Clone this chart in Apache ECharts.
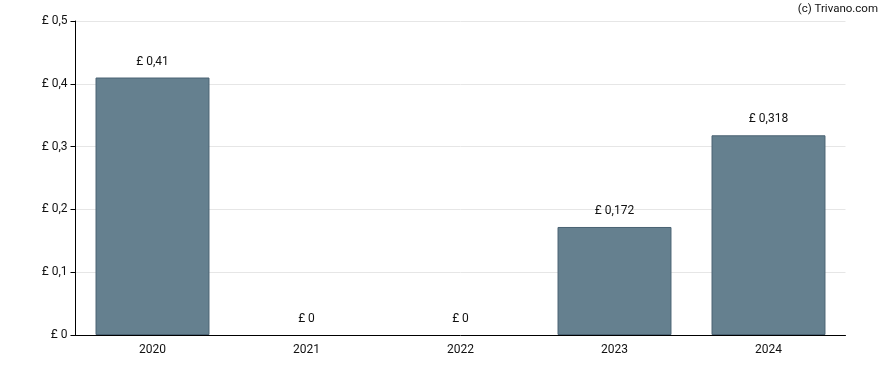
<!DOCTYPE html>
<html><head><meta charset="utf-8">
<script src="https://cdn.jsdelivr.net/npm/echarts@6/dist/echarts.min.js"></script>
<style>html,body{margin:0;padding:0;background:#fff}#c{width:888px;height:370px}</style>
</head><body><div id="c"></div>
<script>
const categories = ['2020','2021','2022','2023','2024'];
const values = [0.41, 0, 0, 0.172, 0.318];
const yTicks = [0, 0.1, 0.2, 0.3, 0.4, 0.5];
const fmt = v => '£ ' + String(v).replace('.', ',');
const chart = echarts.init(document.getElementById('c'));
chart.setOption({
  animation: false,
  textStyle: {fontFamily: 'Roboto'},
  graphic: [{type:'text', right: 10, top: 3, style:{text:'(c) Trivano.com', font:'11.5px Roboto', fill:'#111'}}],
  grid: {left: 75.5, right: 42.5, top: 21, bottom: 35},
  xAxis: {
    type: 'category', data: categories,
    axisLine: {lineStyle: {color: '#000', width: 1}},
    axisTick: {alignWithLabel: true, length: 5, lineStyle: {color: '#000'}},
    axisLabel: {color: '#111', fontSize: 12, margin: 9}
  },
  yAxis: {
    type: 'value', min: yTicks[0], max: yTicks[yTicks.length-1], interval: 0.1,
    axisLine: {show: true, lineStyle: {color: '#000'}},
    axisTick: {show: true, length: 5, lineStyle: {color: '#000'}},
    axisLabel: {color: '#111', fontSize: 12, margin: 8, formatter: v => fmt(Math.round(v*10)/10)},
    splitLine: {lineStyle: {color: '#e6e6e6'}}
  },
  series: [{
    type: 'bar', barCategoryGap: '26%',
    data: values.map(v => ({value: v, itemStyle: {borderWidth: v === 0 ? 0 : 1}})),
    itemStyle: {color: '#65808f', borderColor: '#4a6273', borderWidth: 1},
    label: {show: true, position: 'top', distance: 10, color: '#111', fontSize: 12, formatter: p => fmt(p.value)}
  }]
});
</script></body></html>
